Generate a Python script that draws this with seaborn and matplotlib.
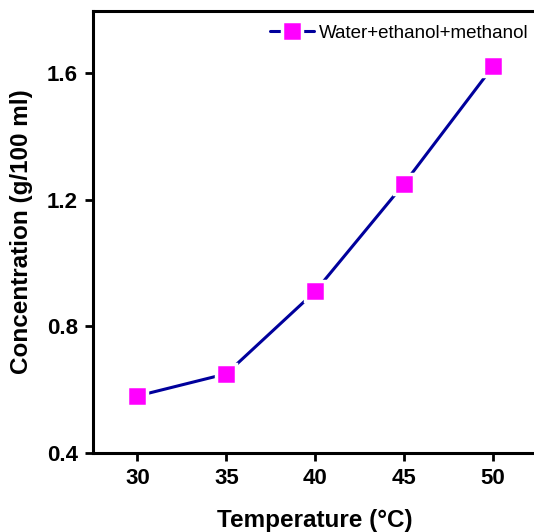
import matplotlib
matplotlib.use("Agg")
import matplotlib.pyplot as plt
import seaborn as sns
import pandas as pd

temperature = [30, 35, 40, 45, 50]
concentration = [0.58, 0.65, 0.91, 1.25, 1.62]
series_name = "Water+ethanol+methanol"
x_ticks = [30, 35, 40, 45, 50]
y_ticks = [0.4, 0.8, 1.2, 1.6]

sns.set_style("ticks")
plt.rcParams['font.family'] = ['Liberation Sans', 'DejaVu Sans']
plt.rcParams['text.color'] = 'black'
plt.rcParams['axes.labelcolor'] = 'black'
plt.rcParams['xtick.color'] = 'black'
plt.rcParams['ytick.color'] = 'black'

df = pd.DataFrame({"Temperature": temperature, "Concentration": concentration,
                   "Series": [series_name] * len(temperature)})

fig = plt.figure(figsize=(5.34, 5.32), dpi=100)
ax = fig.add_axes([93 / 534, 79 / 532, 444.4 / 534, 442 / 532])

sns.lineplot(data=df, x="Temperature", y="Concentration", hue="Series",
             palette=["#00009c"], marker="s", markersize=14,
             markerfacecolor="#ff00ff", markeredgecolor="white",
             markeredgewidth=2.5, linewidth=2.2, ax=ax)

ax.set_xlim(27.5, 52.5)
ax.set_ylim(0.4, 1.795)
ax.set_xticks(x_ticks)
ax.set_yticks(y_ticks)
ax.set_xticklabels([str(t) for t in x_ticks], fontsize=16, fontweight="bold")
ax.set_yticklabels([f"{t:.1f}" for t in y_ticks], fontsize=16, fontweight="bold")
ax.tick_params(direction="out", length=6, width=2, pad=5, color="black")
for s in ax.spines.values():
    s.set_linewidth(2.2)
    s.set_color("black")
ax.set_xlabel("Temperature (\u00b0C)", fontsize=17.5, fontweight="bold", labelpad=14)
ax.set_ylabel("Concentration (g/100 ml)", fontsize=17.5, fontweight="bold", labelpad=10)

leg = ax.legend(loc="upper right", frameon=False, fontsize=13.5,
                handlelength=2.35, handletextpad=0.27, borderaxespad=0.25,
                bbox_to_anchor=(1.008, 0.997))

fig.savefig("out.png", dpi=100)
